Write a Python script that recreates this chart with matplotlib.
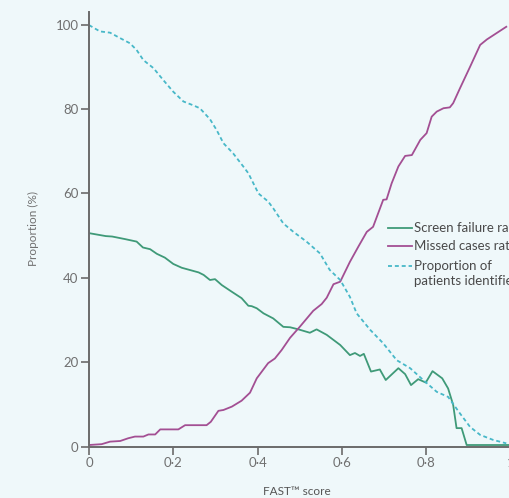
import matplotlib
matplotlib.use("Agg")
from matplotlib import pyplot as plt
from matplotlib.lines import Line2D

# screen failure rate (green)
sf_x = [0, 0.04, 0.055, 0.085, 0.113, 0.128, 0.145, 0.161, 0.18, 0.2, 0.22, 0.26, 0.272, 0.287,
        0.299, 0.315, 0.339, 0.362, 0.378, 0.386, 0.398, 0.414, 0.437, 0.461, 0.477, 0.497, 0.524,
        0.54, 0.564, 0.58, 0.596, 0.619, 0.631, 0.643, 0.652, 0.669, 0.69, 0.704, 0.734, 0.75,
        0.764, 0.781, 0.799, 0.815, 0.838, 0.852, 0.864, 0.872, 0.884, 0.896, 1.0]
sf_y = [50.6, 49.9, 49.8, 49.2, 48.6, 47.2, 46.8, 45.7, 44.8, 43.3, 42.4, 41.3, 40.7, 39.5,
        39.7, 38.3, 36.7, 35.2, 33.4, 33.3, 32.8, 31.6, 30.4, 28.4, 28.3, 27.8, 27.0,
        27.8, 26.5, 25.3, 24.1, 21.7, 22.2, 21.5, 22.0, 17.8, 18.3, 15.8, 18.6, 17.2,
        14.6, 16.0, 15.2, 17.9, 16.2, 13.8, 9.9, 4.4, 4.4, 0.4, 0.4]

# missed cases rate (purple)
mc_x = [0, 0.03, 0.05, 0.074, 0.093, 0.109, 0.129, 0.141, 0.157, 0.169, 0.212, 0.228, 0.279, 0.289,
        0.307, 0.319, 0.339, 0.362, 0.382, 0.398, 0.425, 0.441, 0.457, 0.477, 0.5, 0.532, 0.552,
        0.564, 0.58, 0.596, 0.619, 0.639, 0.659, 0.674, 0.686, 0.698, 0.706, 0.718, 0.734, 0.75,
        0.766, 0.786, 0.801, 0.813, 0.825, 0.841, 0.856, 0.864, 0.88, 0.904, 0.928, 0.944, 0.967, 0.99]
mc_y = [0.4, 0.6, 1.2, 1.35, 2.0, 2.4, 2.4, 2.9, 2.9, 4.1, 4.1, 5.1, 5.1, 5.9,
        8.5, 8.7, 9.5, 10.9, 12.8, 16.2, 19.8, 20.9, 22.9, 25.8, 28.4, 32.2, 33.8,
        35.3, 38.5, 39.1, 43.8, 47.4, 50.9, 52.1, 55.3, 58.5, 58.6, 62.4, 66.4, 68.9,
        69.1, 72.7, 74.3, 78.2, 79.4, 80.2, 80.4, 81.4, 84.9, 90.0, 95.2, 96.5, 98.0, 99.5]

# proportion of patients identified (cyan, dashed)
pi_x = [0, 0.026, 0.05, 0.074, 0.097, 0.113, 0.129, 0.153, 0.176, 0.2, 0.224, 0.247, 0.263, 0.287,
        0.303, 0.319, 0.342, 0.366, 0.378, 0.402, 0.425, 0.437, 0.461, 0.485, 0.516, 0.548, 0.571,
        0.596, 0.619, 0.635, 0.667, 0.698, 0.73, 0.762, 0.793, 0.825, 0.852, 0.88, 0.904, 0.928,
        0.959, 0.99]
pi_y = [99.9, 98.4, 98.1, 96.8, 95.6, 94.0, 91.6, 89.7, 86.9, 84.1, 81.8, 80.9, 80.2, 77.6,
        75.0, 71.9, 69.5, 66.4, 64.8, 60.0, 58.1, 56.5, 52.9, 50.9, 48.6, 45.8, 41.9,
        39.5, 35.5, 31.6, 27.7, 24.5, 20.5, 18.6, 15.8, 13.0, 11.8, 7.9, 4.7, 2.8,
        1.6, 0.8]

xticks = [0, 0.2, 0.4, 0.6, 0.8, 1]
xtick_labels = ["0", "0\u00b72", "0\u00b74", "0\u00b76", "0\u00b78", "1"]
yticks = [0, 20, 40, 60, 80, 100]
legend_labels = ["Screen failure rate", "Missed cases rate", "Proportion of\npatients identified"]

bg = "#eff8fa"
green = "#3f9a78"
purple = "#a34f93"
cyan = "#47b8c8"
grey = "#6b6b6b"

plt.rcParams['font.family'] = ['Lato', 'DejaVu Sans']

W, H = 509, 498
fig = plt.figure(figsize=(W / 100, H / 100), dpi=100, facecolor=bg)
ax = fig.add_axes([89 / W, 1 - 446.7 / H, 421.5 / W, 434.7 / H])
ax.set_facecolor(bg)

ax.plot(sf_x, sf_y, color=green, lw=1.3)
ax.plot(mc_x, mc_y, color=purple, lw=1.3)
ax.plot(pi_x, pi_y, color=cyan, lw=1.3, linestyle=(0, (2.2, 1.6)))

ax.set_xlim(0, 1)
ax.set_ylim(0, 103)
ax.set_xticks(xticks)
ax.set_xticklabels(xtick_labels)
ax.set_yticks(yticks)
for s in ["top", "right"]:
    ax.spines[s].set_visible(False)
for s in ["left", "bottom"]:
    ax.spines[s].set_color(grey)
    ax.spines[s].set_linewidth(1.4)
ax.tick_params(length=6, width=1.2, color=grey, labelcolor="#707070", labelsize=9.5, pad=1.5)

fig.text(33 / W, 1 - 228 / H, "Proportion (%)", rotation=90, ha="center", va="center",
         fontsize=8.5, color="#707070")
fig.text(297 / W, 1 - 491 / H, "FAST\u2122 score", ha="center", va="center",
         fontsize=8.5, color="#555555")

# legend, drawn by hand so the cut-off at the right edge matches
rows = [228, 246, 266]
styles = [dict(color=green, lw=1.3), dict(color=purple, lw=1.3),
          dict(color=cyan, lw=1.3, linestyle=(0, (2.2, 1.6)))]
for ypx, st, lab in zip(rows, styles, legend_labels):
    fig.add_artist(Line2D([388 / W, 412 / W], [1 - ypx / H, 1 - ypx / H],
                          transform=fig.transFigure, **st))
    fig.text(414 / W, 1 - (ypx - 6.5) / H, lab, ha="left", va="top", fontsize=9.5,
             color="#4a4a4a", linespacing=1.35)

fig.savefig("out.png", dpi=100, facecolor=bg)
